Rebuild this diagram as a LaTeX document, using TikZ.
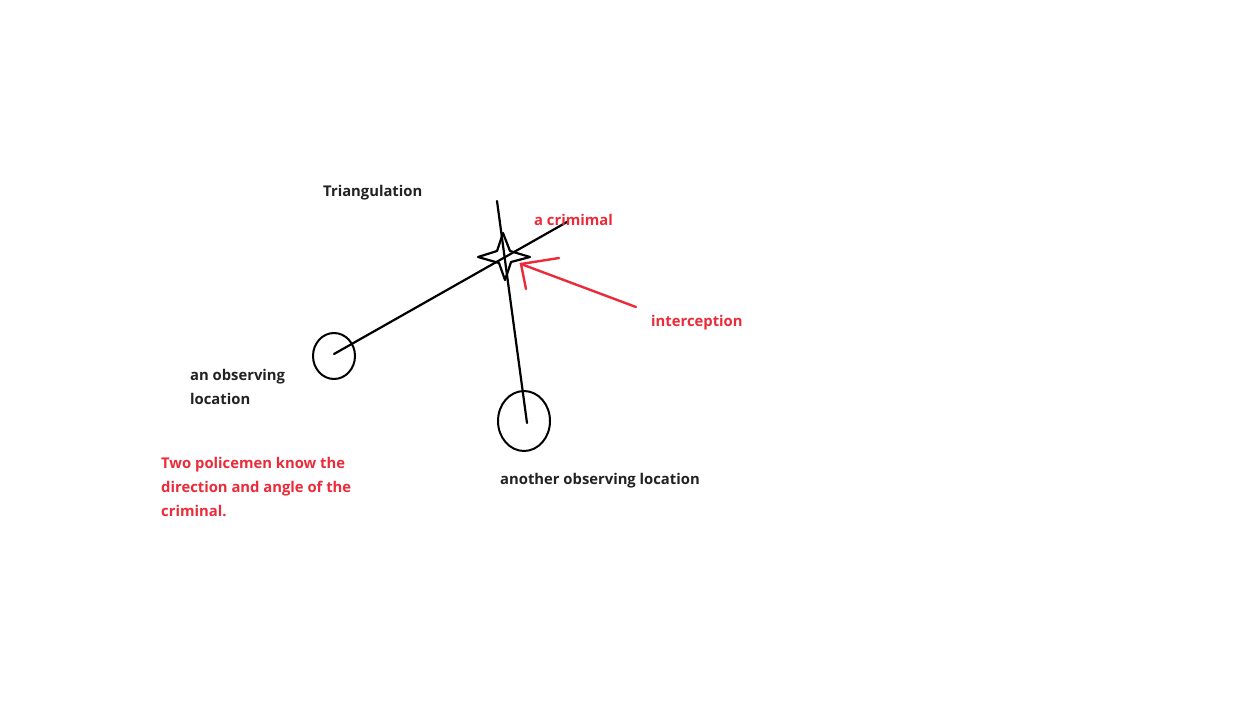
\documentclass[tikz,border=0pt]{standalone}
\usepackage{fontspec}
\usetikzlibrary{shapes.geometric}
\setmainfont{Open Sans}
\definecolor{pred}{HTML}{EC2B3A}
\definecolor{ptxt}{HTML}{222222}
\begin{document}
\begin{tikzpicture}[x=1pt,y=-1pt,
  lbl/.style={font=\bfseries\fontsize{14.8}{24}\selectfont,anchor=west,inner sep=0pt,text=ptxt},
  rlbl/.style={lbl,text=pred},
  ink/.style={draw=black,line width=2.2pt,line cap=round,line join=round},
  rink/.style={draw=pred,line width=2.4pt,line cap=round}]
\useasboundingbox[fill=white] (0,0) rectangle (1241,706);
% circles
\node[ink,ellipse,minimum width=42pt,minimum height=46pt,inner sep=0pt,line width=2pt] (c1) at (334,356) {};
\node[ink,ellipse,minimum width=52pt,minimum height=60pt,inner sep=0pt,line width=2pt] (c2) at (524,421) {};
\coordinate (s1) at (334,354);
\coordinate (e1) at (567,222);
\coordinate (s2) at (527,423);
\coordinate (e2) at (497,201);
\draw[ink] (s1) -- (e1);
\draw[ink] (s2) -- (e2);
% star
\coordinate (st) at (504,257);
\draw[ink] (503,233) -- (510,251) -- (530,257) -- (511,262) -- (505,280) -- (499,263) -- (478,257) -- (497,251) -- cycle;
% red arrow
\coordinate (tip) at (521,264);
\coordinate (tail) at (636,307);
\coordinate (a1) at (559,258);
\coordinate (a2) at (526,289);
\draw[rink] (tail) -- (tip);
\draw[rink] (a1) -- (tip) -- (a2);
% labels
\node[lbl] (t1) at (323,193) {Triangulation};
\node[rlbl] (t2) at (534,220) {a crimimal};
\node[rlbl] (t3) at (651,322.5) {interception};
\node[lbl,align=left] (t4) at (190,386.5) {an observing\\location};
\node[lbl] (t5) at (500,480.5) {another observing location};
\node[rlbl,align=left] (t6) at (161,486.5) {Two policemen know the\\direction and angle of the\\criminal.};
\end{tikzpicture}
\end{document}
